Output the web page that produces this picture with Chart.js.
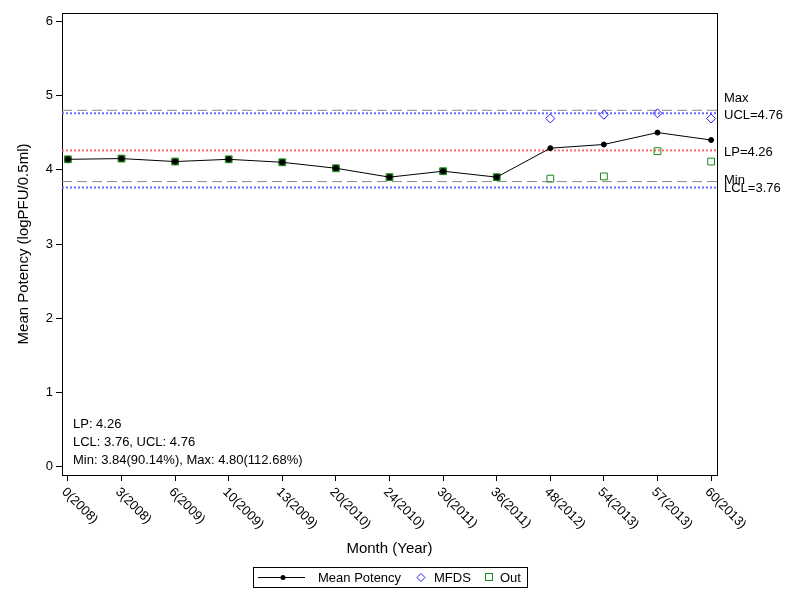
<!DOCTYPE html>
<html>
<head>
<meta charset="utf-8">
<script src="https://cdn.jsdelivr.net/npm/chart.js@4"></script>
<style>
  html,body{margin:0;padding:0;background:#fff;}
  #wrap{width:800px;height:600px;position:relative;}
</style>
</head>
<body>
<div id="wrap"><canvas id="c" width="800" height="600"></canvas></div>
<script>
// ── data ──
const months   = ['0(2008)','3(2008)','6(2009)','10(2009)','13(2009)','20(2010)','24(2010)','30(2011)','36(2011)','48(2012)','54(2013)','57(2013)','60(2013)'];
const meanPot  = [4.14,4.15,4.11,4.14,4.10,4.02,3.90,3.98,3.90,4.29,4.34,4.50,4.40];
const mfds     = [null,null,null,null,null,null,null,null,null,4.69,4.74,4.76,4.69];
const outVals  = [4.14,4.15,4.11,4.14,4.10,4.02,3.90,3.98,3.90,3.88,3.91,4.25,4.11];
const yTicks   = [0,1,2,3,4,5,6];
const refLines = [
  { name:'Max', value:4.80, label:'Max',      color:'#8a8a8a', dash:[10,5], width:1 },
  { name:'UCL', value:4.76, label:'UCL=4.76', color:'#6a6aff', dash:[2,2],  width:2 },
  { name:'LP',  value:4.26, label:'LP=4.26',  color:'#ff6a6a', dash:[2,2],  width:2 },
  { name:'Min', value:3.84, label:'Min',      color:'#8a8a8a', dash:[10,5], width:1 },
  { name:'LCL', value:3.76, label:'LCL=3.76', color:'#6a6aff', dash:[2,2],  width:2 },
];
const infoLines = ['LP: 4.26','LCL: 3.76, UCL: 4.76','Min: 3.84(90.14%), Max: 4.80(112.68%)'];

const X_MIN = -0.11, X_MAX = months.length - 1 + 0.11;
const FONT = 'Liberation Sans, Arial, sans-serif';
const TXT = '13px ' + FONT;
const pts = arr => arr.map((v,i)=>v==null?null:{x:i,y:v}).filter(p=>p);

// label offsets next to the reference lines (px)
const refLabelDy = { Max:-12, UCL:2, LP:2, Min:-1, LCL:1 };

const datasets = [
  { label:'Mean Potency', data:pts(meanPot), borderColor:'#000', backgroundColor:'#000', borderWidth:1,
    pointRadius:2.5, pointHoverRadius:2.5, pointStyle:'circle', order:1 },
  { label:'MFDS', data:pts(mfds), showLine:false, borderColor:'#2222ee', backgroundColor:'transparent', borderWidth:1,
    pointRadius:4.5, pointStyle:'rectRot', order:2 },
  { label:'Out', data:pts(outVals), showLine:false, borderColor:'#1a8a1a', backgroundColor:'transparent', borderWidth:1,
    pointRadius:4.8, pointStyle:'rect', order:3 },
  ...refLines.map(r => ({ label:r.name, data:[{x:X_MIN,y:r.value},{x:X_MAX,y:r.value}], borderColor:r.color,
    borderDash:r.dash, borderWidth:r.width, pointRadius:0, order:5 })),
];
// Out boxes sitting under the mean line look dark filled, the later ones hollow
datasets[2].pointBackgroundColor = outVals.map((v,i)=> meanPot[i]===v ? 'rgba(20,70,20,0.9)' : 'transparent');

const decor = {
  id:'decor',
  beforeDatasetsDraw(chart) {
    const {ctx, chartArea:a} = chart;
    ctx.save();
    ctx.strokeStyle = '#000'; ctx.lineWidth = 1;
    ctx.strokeRect(a.left+0.5, a.top+0.5, a.right-a.left, a.bottom-a.top);
    ctx.restore();
  },
  afterDraw(chart) {
    const {ctx, chartArea:a, scales:{x,y}} = chart;
    ctx.save();
    ctx.fillStyle = '#000';
    ctx.font = TXT;
    // right side labels
    ctx.textAlign = 'left'; ctx.textBaseline = 'middle';
    refLines.forEach(r => ctx.fillText(r.label, a.right + 7, y.getPixelForValue(r.value) + refLabelDy[r.name]));
    // info text block
    infoLines.forEach((t,i) => ctx.fillText(t, a.left + 11, a.bottom - 51 + i*18));
    // rotated x labels
    months.forEach((m,i) => {
      const px = x.getPixelForValue(i);
      ctx.save();
      ctx.translate(px - 4, a.bottom + 15);
      ctx.rotate(Math.PI/4);
      ctx.textAlign = 'left'; ctx.textBaseline = 'middle';
      ctx.fillText(m, 0, 0);
      ctx.restore();
    });
    // legend box
    const lx = 253, ly = 567, lw = 274, lh = 20, cy = ly + lh/2;
    ctx.strokeStyle = '#000'; ctx.lineWidth = 1;
    ctx.strokeRect(lx+0.5, ly+0.5, lw, lh);
    ctx.beginPath(); ctx.moveTo(lx+5, cy+0.5); ctx.lineTo(lx+52, cy+0.5); ctx.stroke();
    ctx.beginPath(); ctx.arc(lx+30, cy+0.5, 2.5, 0, Math.PI*2); ctx.fill();
    ctx.fillText('Mean Potency', lx+65, cy+1);
    ctx.strokeStyle = '#2222ee';
    ctx.beginPath(); ctx.moveTo(lx+168, cy-3.5); ctx.lineTo(lx+172, cy+0.5); ctx.lineTo(lx+168, cy+4.5); ctx.lineTo(lx+164, cy+0.5); ctx.closePath(); ctx.stroke();
    ctx.fillText('MFDS', lx+181, cy+1);
    ctx.strokeStyle = '#1a8a1a';
    ctx.strokeRect(lx+232.5, cy-3.5, 7, 7);
    ctx.fillText('Out', lx+247, cy+1);
    ctx.restore();
  }
};

new Chart(document.getElementById('c'), {
  type:'line',
  data:{ datasets },
  options:{
    responsive:false, animation:false,
    layout:{ padding:{ top:13, right:83, bottom:40, left:0 } },
    plugins:{ legend:{display:false}, tooltip:{enabled:false} },
    scales:{
      x:{ type:'linear', min:X_MIN, max:X_MAX,
          afterBuildTicks: s => { s.ticks = months.map((_,i)=>({value:i})); },
          afterFit: s => { s.height = 85; },
          ticks:{ callback:()=>'', color:'transparent' },
          grid:{ drawOnChartArea:false, drawTicks:true, tickLength:6, color:'#000' },
          border:{ color:'#000' },
          title:{ display:true, text:'Month (Year)', color:'#000', font:{family:FONT,size:15}, padding:{top:0,bottom:2} } },
      y:{ min:-0.11, max:6.11,
          afterBuildTicks: s => { s.ticks = yTicks.map(v=>({value:v})); },
          afterFit: s => { s.width = 62; },
          ticks:{ color:'#000', font:{family:FONT,size:13}, padding:3 },
          grid:{ drawOnChartArea:false, drawTicks:true, tickLength:6, color:'#000' },
          border:{ color:'#000' },
          title:{ display:true, text:'Mean Potency (logPFU/0.5ml)', color:'#000', font:{family:FONT,size:15}, padding:{top:15,bottom:0} } }
    }
  },
  plugins:[decor]
});
</script>
</body>
</html>
